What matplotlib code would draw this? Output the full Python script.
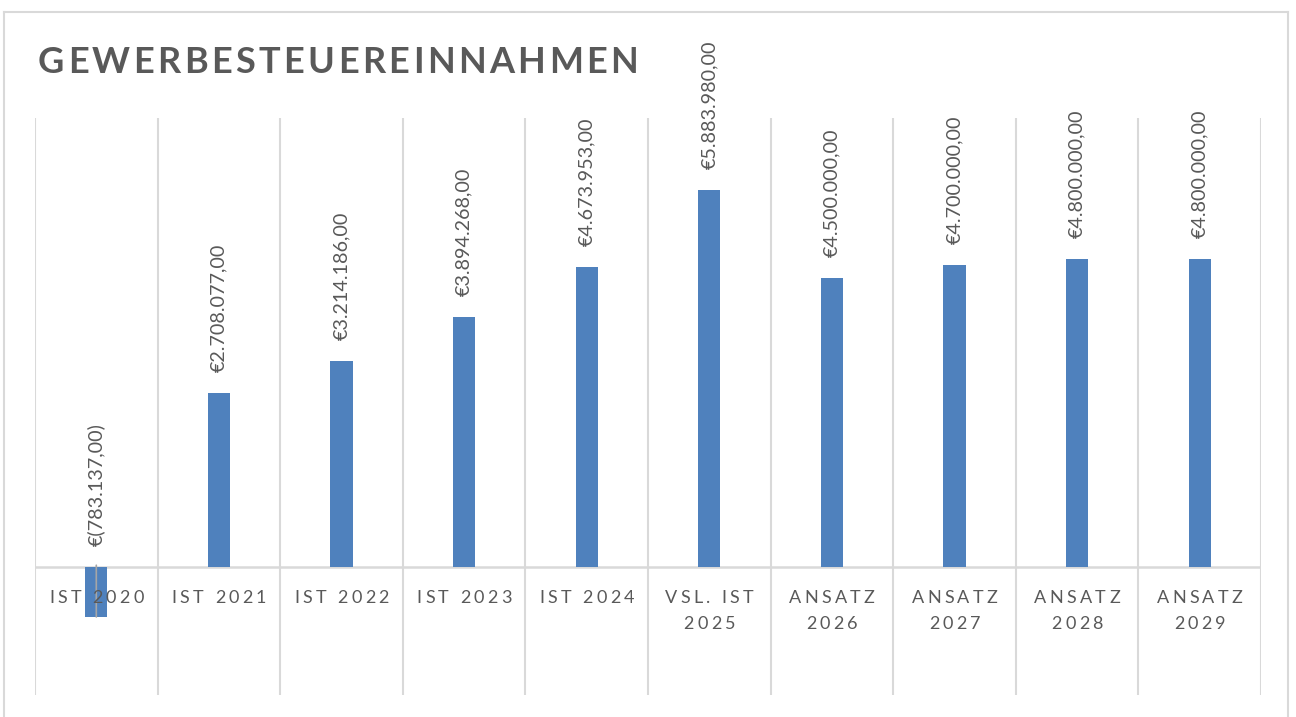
import matplotlib
matplotlib.use("Agg")
import matplotlib.pyplot as plt
import numpy as np
from matplotlib.lines import Line2D
from matplotlib.transforms import offset_copy, IdentityTransform

W, H = 1296, 717

title = "GEWERBESTEUEREINNAHMEN"
categories = ["IST 2020", "IST 2021", "IST 2022", "IST 2023", "IST 2024",
              "VSL. IST\n2025", "ANSATZ\n2026", "ANSATZ\n2027", "ANSATZ\n2028", "ANSATZ\n2029"]
values = [-783137.00, 2708077.00, 3214186.00, 3894268.00, 4673953.00,
          5883980.00, 4500000.00, 4700000.00, 4800000.00, 4800000.00]

BAR = "#4F81BD"
GRID = "#D9D9D9"
TXT = "#595959"
FONT = "Lato"


def euro(v):
    # german number format, accounting style for negatives
    s = f"{abs(v):,.2f}".replace(",", "X").replace(".", ",").replace("X", ".")
    return f"€({s})" if v < 0 else f"€{s}"


fig = plt.figure(figsize=(W / 100, H / 100), dpi=100)
ax = fig.add_axes([35 / W, 1 - 695 / H, (1261 - 35) / W, (695 - 118) / H])

x = np.arange(len(values))
ax.bar(x, values, width=0.18, color=BAR, zorder=3)
ax.set_xlim(-0.5, len(values) - 0.5)
ax.set_ylim(-2e6, 7e6)
for b in np.arange(-0.5, len(values)):
    ax.axvline(b, color=GRID, lw=1.5, zorder=1)
ax.axhline(0, color=GRID, lw=1.8, zorder=2)
ax.axis("off")

# value labels
for i, v in enumerate(values):
    tc = offset_copy(ax.transData, fig=fig, y=21, units="dots")
    kw = {}
    if v < 0:
        kw["arrowprops"] = dict(arrowstyle="-", color="#A6A6A6", lw=1.2,
                                shrinkA=12, shrinkB=0, relpos=(0.5, 0))
    ax.annotate(euro(v), xy=(i, v), xytext=(i, max(v, 0)), textcoords=tc,
                rotation=90, ha="center", va="bottom", fontsize=14.2,
                color=TXT, fontfamily=FONT, zorder=4, **kw)

renderer = fig.canvas.get_renderer()


def spaced_text(s, px, base_y, size, sp=None, target=None, weight="normal", ha="center"):
    kw = dict(fontsize=size, fontfamily=FONT, fontweight=weight, color=TXT)

    def width(t):
        t_ = fig.text(0, 0, t, **kw)
        w = t_.get_window_extent(renderer).width
        t_.remove()
        return w

    ref = width("I")
    offs = [width(s[:k] + "I") - ref for k in range(len(s))]
    nat = width(s)
    if target is not None:
        sp = (target - nat) / (len(s) - 1)
    total = nat + sp * (len(s) - 1)
    x0 = px - total / 2 if ha == "center" else px
    for k, ch in enumerate(s):
        if ch != " ":
            fig.text(x0 + offs[k] + k * sp, H - base_y, ch, transform=IdentityTransform(),
                     ha="left", va="baseline", **kw)


# category labels
for i, lab in enumerate(categories):
    cx = ax.transData.transform((i, 0))[0]
    for j, line in enumerate(lab.split("\n")):
        spaced_text(line, cx, 603 + 26 * j, 13, sp=3.3)

# title
spaced_text(title, 38, 73, 26, target=600, weight="bold", ha="left")

# chart frame
fig.add_artist(Line2D([4 / W, 4 / W], [0, 1 - 12 / H], transform=fig.transFigure, color=GRID, lw=1.5))
fig.add_artist(Line2D([4 / W, 1288 / W], [1 - 12 / H, 1 - 12 / H], transform=fig.transFigure, color=GRID, lw=1.5))
fig.add_artist(Line2D([1288 / W, 1288 / W], [0, 1 - 12 / H], transform=fig.transFigure, color=GRID, lw=1.5))

fig.savefig("out.png", dpi=100)
